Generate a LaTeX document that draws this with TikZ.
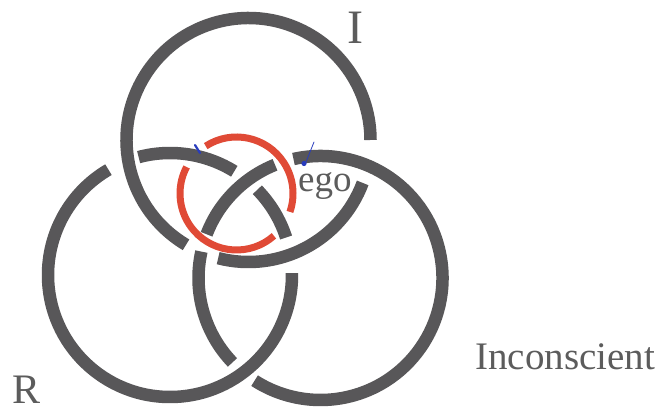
\documentclass[tikz,border=0pt]{standalone}
\usepackage{fontspec}
\setmainfont{Liberation Serif}
\definecolor{ringgray}{RGB}{88,87,89}
\definecolor{ringred}{RGB}{224,74,54}
\definecolor{textgray}{RGB}{92,92,92}
\definecolor{inkblue}{RGB}{40,60,190}
\tikzset{
  grayring/.style={draw=ringgray, line width=12.5pt, line cap=butt},
  redring/.style={draw=ringred, line width=7pt, line cap=butt},
  lbl/.style={text=textgray, inner sep=0pt, anchor=base west},
  bluemark/.style={draw=inkblue, line cap=round}
}
% arc of circle centre (#2,#3), radius #4, from angle #5 to #6
\newcommand\ringpiece[6]{\draw[#1] ([shift={(#5:#4)}]#2,#3) arc[start angle=#5,end angle=#6,radius=#4];}
\begin{document}
\begin{tikzpicture}[x=1pt,y=1pt]
\useasboundingbox (0,0) rectangle (664,412);
\fill[white] (0,0) rectangle (664,412);
% top ring (I)
\ringpiece{grayring}{248.5}{272}{122}{-120.8}{-360}
\ringpiece{grayring}{248.5}{272}{122}{-20.6}{-104.4}
% bottom-left ring (R)
\ringpiece{grayring}{170}{137}{122}{-255.1}{-301.8}
\ringpiece{grayring}{170}{137}{122}{-315.7}{-342.1}
\ringpiece{grayring}{170}{137}{122}{-359.1}{-599.7}
% bottom-right ring (Inconscient)
\ringpiece{grayring}{320.5}{134}{122}{-136.2}{-192.5}
\ringpiece{grayring}{320.5}{134}{122}{-201}{-248.1}
\ringpiece{grayring}{320.5}{134}{122}{-257.2}{-482.7}
% red ring (ego)
\ringpiece{redring}{236.5}{218.5}{56.5}{-48.5}{-208}
\ringpiece{redring}{236.5}{218.5}{56.5}{-237}{-379}
% small blue marks
\draw[bluemark, line width=2.2pt] (195,267) -- (200,259);
\draw[bluemark, line width=0.8pt] (314,270) -- (306,250);
\fill[inkblue] (304,248.5) circle (2.6);
% labels
\node[lbl, font=\fontsize{48}{48}\selectfont] (labI) at (347,368) {I};
\node[lbl, font=\fontsize{42}{42}\selectfont] (labR) at (12,8) {R};
\node[lbl, font=\fontsize{39}{39}\selectfont] (labInc) at (475,42) {Inconscient};
\node[lbl, font=\fontsize{37}{37}\selectfont] (labEgo) at (298,220) {ego};
\end{tikzpicture}
\end{document}
